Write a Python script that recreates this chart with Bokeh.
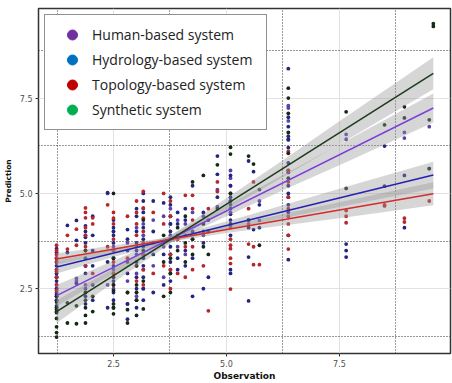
from bokeh.plotting import figure
from bokeh.models import FixedTicker, Legend, LegendItem
from bokeh.embed import file_html
from bokeh.resources import INLINE

# ---------------- data ----------------
series_names = ["Human-based system", "Hydrology-based system", "Topology-based system", "Synthetic system"]

human_x = [1.24]*5 + [1.68]*2 + [1.88]*3 + [2.37]*2 + [2.5]*4 + [2.81]*3 + [3.01]*4 + [3.16]*4 + [3.38]*2 + \
          [3.61]*3 + [3.76]*3 + [3.92]*2 + [4.09]*2 + [4.25]*2 + [4.49]*2 + [4.8]*2 + [5.09]*3 + [5.73]*2 + \
          [6.37]*4 + [7.65]*2 + [8.94]*2 + [9.49] + \
          [1.24]*2 + [2.5]*2 + [3.16]*2 + [3.76]*2 + [5.09]*2 + [6.37]
human_y = [2.0, 2.4, 2.6, 2.8, 3.0, 2.7, 2.77, 2.6, 3.1, 3.9, 5.0, 2.6, 2.5, 3.0, 3.6, 4.0, 2.1, 2.7, 3.7,
           2.3, 2.9, 3.4, 4.1, 2.5, 3.0, 3.9, 4.6, 3.1, 4.3, 2.8, 3.6, 4.4, 3.0, 3.9, 4.6, 3.6, 4.3,
           3.4, 4.2, 3.8, 4.5, 3.9, 4.4, 4.65, 5.1, 4.5, 5.2, 5.4, 4.8, 4.29,
           7.3, 7.24, 6.4, 5.6, 6.55, 6.42, 6.6, 6.45, 6.75,
           2.2, 2.5, 3.3, 2.8, 3.4, 4.2, 3.4, 4.2, 4.8, 5.6, 6.9]

hydro_x = [1.24]*8 + [1.48]*2 + [1.68]*3 + [1.88]*5 + [2.04]*3 + [2.37]*3 + [2.5]*6 + [2.81]*4 + [3.01]*5 + \
          [3.16]*6 + [3.38]*4 + [3.61]*3 + [3.76]*5 + [3.92]*3 + [4.09]*3 + [4.25]*4 + [4.49]*3 + [4.6]*2 + \
          [4.8]*3 + [5.09]*7 + [5.49]*5 + [5.6]*2 + [5.73]*2 + [6.37]*9 + [7.65]*3 + [8.5]*2 + [8.94]*2 + [9.49] + \
          [1.24]*5 + [1.88]*6 + [2.04]*3 + [2.5]*7 + [2.81]*3 + [3.01]*5 + [3.16]*5 + [3.76]*5 + [3.92]*2 + \
          [4.09]*2 + [5.09]*5 + [6.37]*6
hydro_y = [1.9, 2.2, 2.5, 2.7, 2.9, 3.1, 3.3, 3.55, 4.16, 3.45, 4.29, 3.77, 2.64, 2.3, 2.9, 3.3, 3.7, 4.0,
           2.6, 3.5, 3.9, 5.02, 2.0, 3.2, 2.2, 2.7, 3.1, 3.5, 3.9, 4.3, 1.7, 2.9, 3.5, 4.05,
           2.0, 2.5, 3.2, 3.7, 4.4, 2.2, 2.8, 3.3, 3.8, 4.5, 5.0, 2.4, 3.4, 4.0, 4.8, 2.6, 3.4, 4.75,
           2.7, 3.2, 3.6, 4.2, 4.9, 3.0, 3.9, 4.5, 3.1, 3.9, 4.6, 2.3, 3.3, 4.0, 5.2, 2.5, 3.7, 4.5,
           2.8, 4.3, 5.98, 5.5, 4.9, 5.47, 5.2, 4.9, 4.6, 4.3, 3.0, 2.9, 5.85, 4.3, 4.1, 3.33, 2.18,
           5.57, 4.05, 4.7, 4.1, 8.27, 6.75, 6.5, 6.42, 5.55, 5.2, 4.9, 3.9, 3.26, 3.67, 3.5, 3.33,
           6.24, 5.19, 5.47, 4.1, 5.65,
           2.05, 2.35, 2.8, 3.2, 3.45, 2.1, 2.5, 3.1, 3.5, 3.85, 4.15, 2.2, 3.1, 4.4,
           2.0, 2.4, 2.9, 3.3, 3.7, 4.1, 4.0, 2.1, 3.2, 3.8, 2.2, 2.8, 3.5, 4.0, 4.6,
           2.5, 3.1, 3.6, 4.1, 4.8, 2.9, 3.4, 4.0, 4.4, 4.7, 3.3, 4.2, 3.5, 4.3,
           5.0, 4.8, 4.45, 4.15, 3.9, 7.0, 6.2, 5.8, 5.0, 4.7, 4.5]

topo_x = [1.24]*7 + [1.48]*2 + [1.68]*2 + [1.88]*5 + [2.04]*3 + [2.37]*2 + [2.5]*4 + [2.81]*3 + [3.01]*4 + \
         [3.16]*5 + [3.38]*3 + [3.61]*3 + [3.76]*3 + [3.92]*2 + [4.09]*3 + [4.25]*3 + [4.49]*2 + [4.6]*2 + \
         [4.8]*2 + [5.09]*5 + [5.49]*3 + [5.6]*3 + [5.73] + [6.37]*6 + [7.65]*3 + [8.5]*2 + [8.94]*2 + [9.49] + \
         [1.24]*4 + [1.88]*3 + [2.5]*4 + [3.01]*4 + [3.16]*3 + [3.76]*3 + [4.25]*2 + [5.09]*2 + [6.37]*3
topo_y = [2.3, 2.6, 2.8, 3.0, 3.2, 3.4, 3.64, 3.9, 3.54, 4.06, 3.64, 4.62, 4.5, 4.36, 3.1, 2.4,
          4.2, 4.36, 2.9, 4.7, 3.6, 2.6, 3.2, 3.8, 4.5, 2.4, 3.3, 4.4, 2.7, 3.6, 4.2, 4.8,
          5.05, 4.62, 4.35, 3.4, 2.6, 2.9, 3.7, 4.5, 5.0, 3.1, 4.2, 2.5, 3.4, 4.4, 2.9, 3.8,
          4.95, 3.6, 2.8, 4.95, 4.3, 3.0, 4.0, 3.1, 4.6, 1.92, 5.3, 5.05,
          4.1, 3.64, 3.55, 3.16, 2.49, 4.6, 4.2, 3.67, 5.3, 3.13, 3.6, 3.13,
          6.1, 5.3, 4.6, 4.4, 4.2, 3.54, 4.55, 4.4, 4.23, 4.67, 4.7, 4.35, 4.25, 4.8,
          2.45, 2.95, 3.3, 3.5, 3.6, 3.9, 4.1, 2.9, 3.5, 4.2, 4.35, 2.4, 3.1, 3.9, 4.5,
          3.0, 3.7, 4.0, 3.0, 3.8, 4.8, 3.6, 4.6, 3.8, 3.3, 3.9, 4.9, 5.6]

synth_x = [1.24]*7 + [1.48]*2 + [1.68]*2 + [1.88]*4 + [2.04]*2 + [2.5]*6 + [2.81]*3 + [3.01]*3 + [3.16]*4 + \
          [3.61]*3 + [3.76]*3 + [3.92]*2 + [4.09]*3 + [4.25]*3 + [4.49]*3 + [4.6]*2 + [4.8]*2 + [5.09]*4 + \
          [5.49]*2 + [5.6] + [5.73]*2 + [6.37]*4 + [7.65]*2 + [8.5] + [8.94]*2 + [9.49]*2 + [9.58]*2 + \
          [1.24]*2 + [1.88]*2 + [2.5]*2 + [3.01]*2 + [3.76] + [5.09] + [6.37]*2
synth_y = [1.23, 1.5, 1.72, 1.87, 2.0, 2.15, 2.3, 1.6, 2.13, 1.58, 2.05, 1.8, 2.0, 2.2, 3.5, 1.9, 2.3,
           1.84, 2.1, 2.45, 2.8, 3.3, 5.0, 1.6, 1.95, 2.4, 2.2, 2.6, 3.1, 1.97, 2.7, 3.5, 4.3,
           2.3, 3.2, 3.9, 2.4, 3.3, 3.8, 3.5, 4.1, 3.2, 3.7, 4.4, 3.4, 3.8, 5.3, 3.6, 4.2, 5.47,
           3.4, 4.0, 5.75, 4.6, 6.21, 6.03, 4.2, 4.7, 5.98, 4.3, 5.77, 5.1, 3.64,
           7.76, 7.1, 6.05, 5.4, 7.14, 5.13, 6.8, 7.27, 6.98, 6.93, 5.65, 9.38, 9.45,
           1.35, 1.95, 1.6, 2.4, 2.0, 2.6, 1.8, 2.4, 2.9, 5.0, 6.6, 7.5]

# fitted lines (end points)
fit_x = [1.24, 9.58]
fit_human = [2.32, 7.24]
fit_hydro = [3.07, 5.48]
fit_topo = [3.28, 4.99]
fit_synth = [1.90, 8.15]

# confidence bands (lower / upper)
band_x = [1.24, 2.5, 3.8, 5.0, 6.25, 7.5, 9.58]
human_lo = [2.04, 2.89, 3.73, 4.40, 5.08, 5.74, 6.86]
human_hi = [2.60, 3.23, 3.93, 4.68, 5.48, 6.28, 7.62]
hydro_lo = [2.90, 3.33, 3.74, 4.06, 4.35, 4.64, 5.13]
hydro_hi = [3.24, 3.53, 3.88, 4.26, 4.69, 5.12, 5.83]
topo_lo = [3.13, 3.45, 3.74, 3.96, 4.16, 4.35, 4.69]
topo_hi = [3.43, 3.63, 3.86, 4.14, 4.46, 4.77, 5.29]
synth_lo = [1.60, 2.66, 3.72, 4.57, 5.43, 6.29, 7.73]
synth_hi = [2.20, 3.02, 3.92, 4.87, 5.87, 6.89, 8.57]

x_ticks = [2.5, 5.0, 7.5]
x_minor = [1.25, 3.75, 6.25, 8.75]
x_labels = ["2.5", "5.0", "7.5"]
y_ticks = [2.5, 5.0, 7.5]
y_minor = [1.25, 3.75, 6.25, 8.75]
y_labels = ["2.5", "5.0", "7.5"]

# ---------------- styles ----------------
legend_colors = ["#7030A0", "#0070C0", "#C00000", "#00B050"]
point_colors = ["#5b3fae", "#22267e", "#b8262b", "#152a15"]
line_colors = ["#7d3fdc", "#2323b0", "#d42c2c", "#1c3a1c"]

p = figure(width=452, height=383, x_range=(0.84, 9.96), y_range=(0.80, 9.85),
           output_backend="svg", toolbar_location=None,
           min_border_left=38, min_border_right=2, min_border_top=8, min_border_bottom=25)
p.background_fill_color = "white"
p.border_fill_color = "white"
p.outline_line_color = "#333333"
p.outline_line_width = 1.5

for ax, ticks, minor, labels in ((p.xaxis, x_ticks, x_minor, x_labels), (p.yaxis, y_ticks, y_minor, y_labels)):
    ax.ticker = FixedTicker(ticks=ticks, minor_ticks=minor)
    ax.major_label_overrides = {t: l for t, l in zip(ticks, labels)}
    ax.axis_line_color = None
    ax.major_tick_line_color = "#333333"
    ax.major_tick_out = 3
    ax.major_tick_in = 0
    ax.minor_tick_line_color = None
    ax.major_label_text_font = "DejaVu Sans"
    ax.major_label_text_font_size = "8px"
    ax.major_label_text_color = "#4d4d4d"
    ax.major_label_standoff = 2
    ax.axis_label_text_font = "DejaVu Sans"
    ax.axis_label_text_font_style = "bold"
    ax.axis_label_text_color = "#111111"

p.xaxis.axis_label = "Observation"
p.xaxis.axis_label_text_font_size = "9px"
p.xaxis.axis_label_standoff = 1
p.yaxis.axis_label = "Prediction"
p.yaxis.axis_label_text_font_size = "7.5px"
p.yaxis.axis_label_standoff = 4

for g in (p.xgrid, p.ygrid):
    g.grid_line_color = "#e2e2e2"
    g.grid_line_width = 1
    g.minor_grid_line_color = "#333333"
    g.minor_grid_line_dash = "1 2"
    g.minor_grid_line_width = 1

# points
pts = [(human_x, human_y), (hydro_x, hydro_y), (topo_x, topo_y), (synth_x, synth_y)]
for (xs, ys), c in zip(pts, point_colors):
    p.scatter(xs, ys, size=3.8, fill_color=c, line_color=None)

# bands
bands = [(human_lo, human_hi), (hydro_lo, hydro_hi), (topo_lo, topo_hi), (synth_lo, synth_hi)]
for lo, hi in bands:
    p.varea(x=band_x, y1=lo, y2=hi, fill_color="#999999", fill_alpha=0.4)

# fit lines
fits = [fit_human, fit_hydro, fit_topo, fit_synth]
for fy, c in zip(fits, line_colors):
    p.line(fit_x, fy, line_color=c, line_width=1.5)

# legend with placeholder renderers (no visible data)
nan = float("nan")
items = []
for name, c in zip(series_names, legend_colors):
    r = p.scatter(x=[nan], y=[nan], size=12, fill_color=c, line_color=c)
    items.append(LegendItem(label=name, renderers=[r]))
legend = Legend(items=items, location="top_left", margin=6, padding=7, spacing=0,
                glyph_width=40, glyph_height=25, label_standoff=0, label_width=167,
                label_text_font="Open Sans", label_text_font_size="14px", label_text_color="#222222",
                border_line_color="#222222", border_line_width=1.5,
                background_fill_color="white", background_fill_alpha=1.0)
p.add_layout(legend, "center")

open("out.html", "w").write(file_html(p, INLINE))
